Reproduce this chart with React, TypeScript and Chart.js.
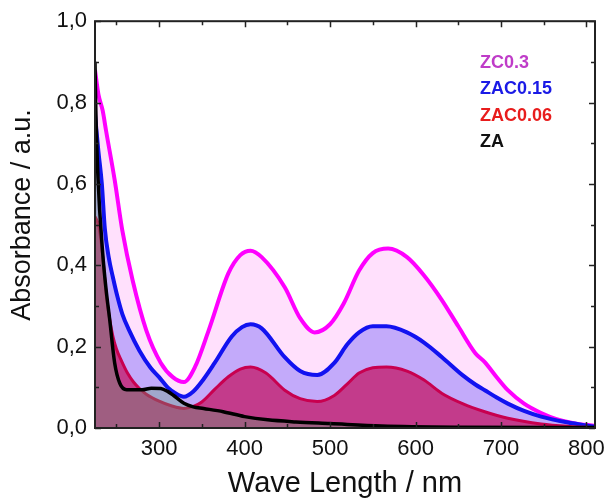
import React, { useEffect, useRef } from 'react';
import { Chart, registerables } from 'chart.js';

Chart.register(...registerables);

// ZC0.3 (magenta)
const zcX = [225, 229, 234, 238, 248, 257, 269, 285, 302, 316, 329, 342, 358, 381, 395, 407, 420, 447, 465, 482, 500, 516, 534, 550, 568, 590, 610, 631, 650, 670, 681, 695, 708, 727, 747, 765, 785, 810];
const zcY = [0.88, 0.82, 0.78, 0.73, 0.61, 0.485, 0.363, 0.24, 0.16, 0.125, 0.113, 0.15, 0.24, 0.38, 0.425, 0.436, 0.42, 0.346, 0.27, 0.235, 0.255, 0.306, 0.387, 0.43, 0.441, 0.42, 0.375, 0.314, 0.25, 0.184, 0.162, 0.125, 0.093, 0.06, 0.037, 0.022, 0.012, 0.005];

// ZAC0.15 (blue)
const zac15X = [225, 229, 233, 236.5, 241, 246, 251, 257, 265, 277, 290, 300, 310, 320, 329, 340, 352, 365, 385, 397, 407, 420, 447, 465, 485, 505, 520, 534, 550, 566, 590, 610, 631, 655, 670, 681, 695, 708, 727, 747, 777, 810];
const zac15Y = [0.77, 0.68, 0.6, 0.49, 0.42, 0.37, 0.325, 0.28, 0.24, 0.19, 0.148, 0.125, 0.1, 0.084, 0.077, 0.09, 0.12, 0.16, 0.225, 0.248, 0.255, 0.245, 0.174, 0.14, 0.13, 0.16, 0.205, 0.235, 0.25, 0.25, 0.235, 0.21, 0.174, 0.13, 0.107, 0.093, 0.075, 0.06, 0.042, 0.028, 0.014, 0.003];

// ZAC0.06 (crimson)
const zac06X = [225, 229, 232, 235, 238, 242, 246, 250, 256, 263, 270, 277, 285, 300, 315, 329, 340, 350, 365, 381, 395, 407, 425, 447, 465, 485, 505, 520, 534, 550, 566, 590, 610, 631, 655, 681, 708, 747, 780, 810];
const zac06Y = [0.52, 0.5, 0.46, 0.4, 0.33, 0.27, 0.225, 0.195, 0.165, 0.135, 0.113, 0.097, 0.083, 0.066, 0.054, 0.048, 0.053, 0.064, 0.095, 0.126, 0.145, 0.15, 0.135, 0.093, 0.072, 0.065, 0.08, 0.108, 0.135, 0.148, 0.15, 0.14, 0.118, 0.085, 0.06, 0.04, 0.024, 0.01, 0.004, 0.001];

// ZA (black)
const zaX = [225, 226, 228.5, 234, 238, 242, 248, 254, 262, 280, 291, 302, 310, 317, 329, 340, 352, 375, 400, 427, 460, 500, 560, 650, 810];
const zaY = [0.9, 0.78, 0.615, 0.43, 0.34, 0.27, 0.16, 0.11, 0.094, 0.094, 0.098, 0.097, 0.09, 0.08, 0.061, 0.052, 0.048, 0.04, 0.028, 0.02, 0.015, 0.011, 0.005, 0.002, 0.001];

const xTickValues = [300, 400, 500, 600, 700, 800];
const yTickValues = [0, 0.2, 0.4, 0.6, 0.8, 1.0];
const legendLabels = ['ZC0.3', 'ZAC0.15', 'ZAC0.06', 'ZA'];
const legendColors = ['#bf3cc8', '#1a1ae6', '#e81c1c', '#111111'];
const yTitle = 'Absorbance / a.u.';
const xTitle = 'Wave Length / nm';

const toPoints = (xs: number[], ys: number[]) => xs.map((x, i) => ({ x, y: ys[i] }));

const FONT = '"Liberation Sans", Arial, sans-serif';

const framePlugin = {
  id: 'frameTicks',
  afterDraw(chart: any) {
    const { ctx, chartArea, scales } = chart;
    const { left, right, top, bottom } = chartArea;
    const xs = scales.x;
    const ys = scales.y;
    ctx.save();
    ctx.strokeStyle = '#222';
    ctx.lineWidth = 1.5;
    ctx.beginPath();
    for (let v = 250; v <= 800; v += 50) {
      const px = Math.round(xs.getPixelForValue(v)) + 0.5;
      const len = v % 100 === 0 ? 6 : 4;
      ctx.moveTo(px, bottom);
      ctx.lineTo(px, bottom - len);
      ctx.moveTo(px, top);
      ctx.lineTo(px, top + len);
    }
    for (let i = 0; i <= 10; i++) {
      const py = Math.round(ys.getPixelForValue(i / 10)) + 0.5;
      const len = i % 2 === 0 ? 6 : 4;
      ctx.moveTo(left, py);
      ctx.lineTo(left + len, py);
      ctx.moveTo(right, py);
      ctx.lineTo(right - len, py);
    }
    ctx.stroke();
    ctx.lineWidth = 2;
    ctx.strokeRect(left, top, right - left, bottom - top);

    // legend
    ctx.font = 'bold 18px ' + FONT;
    ctx.textBaseline = 'middle';
    ctx.textAlign = 'left';
    const legendY = [63, 89, 116, 142];
    legendLabels.forEach((t, i) => {
      ctx.fillStyle = legendColors[i];
      ctx.fillText(t, 480, legendY[i]);
    });

    // y axis title
    ctx.fillStyle = '#111';
    ctx.font = '27px ' + FONT;
    ctx.textAlign = 'center';
    ctx.textBaseline = 'middle';
    ctx.translate(23, 215);
    ctx.rotate(-Math.PI / 2);
    ctx.fillText(yTitle, 0, 0);
    ctx.restore();
  },
};

export default function App() {
  const ref = useRef<HTMLCanvasElement | null>(null);
  useEffect(() => {
    if (!ref.current) return;
    const chart = new Chart(ref.current, {
      type: 'line',
      data: {
        datasets: [
          {
            label: 'ZA',
            data: toPoints(zaX, zaY),
            borderColor: '#000000',
            borderWidth: 3.5,
            backgroundColor: 'rgba(92,163,110,0.34)',
            fill: 'origin',
          },
          {
            label: 'ZAC0.06',
            data: toPoints(zac06X, zac06Y),
            borderColor: '#c8004f',
            borderWidth: 3,
            backgroundColor: 'rgba(195,13,93,0.7)',
            fill: 'origin',
          },
          {
            label: 'ZAC0.15',
            data: toPoints(zac15X, zac15Y),
            borderColor: '#1212f0',
            borderWidth: 4,
            backgroundColor: 'rgba(55,44,245,0.3)',
            fill: 'origin',
          },
          {
            label: 'ZC0.3',
            data: toPoints(zcX, zcY),
            borderColor: '#ff00ff',
            borderWidth: 4,
            backgroundColor: 'rgba(255,0,230,0.12)',
            fill: 'origin',
          },
        ],
      },
      options: {
        animation: false,
        responsive: false,
        devicePixelRatio: 1,
        layout: { padding: { top: 20, right: 11, left: 0, bottom: 0 } },
        elements: {
          point: { radius: 0 },
          line: { cubicInterpolationMode: 'monotone' },
        },
        plugins: {
          legend: { display: false },
          tooltip: { enabled: false },
        },
        scales: {
          x: {
            type: 'linear',
            min: 225,
            max: 810,
            afterBuildTicks: (s: any) => {
              s.ticks = xTickValues.map((v) => ({ value: v }));
            },
            afterFit: (s: any) => {
              s.height = 72;
            },
            grid: { display: false, drawTicks: false },
            border: { display: false },
            ticks: {
              font: { size: 22, family: FONT },
              color: '#111',
              padding: 8,
              maxRotation: 0,
              autoSkip: false,
            },
            title: {
              display: true,
              text: xTitle,
              font: { size: 29, family: FONT },
              color: '#111',
              padding: { top: 0, bottom: -1 },
            },
          },
          y: {
            type: 'linear',
            min: 0,
            max: 1,
            afterBuildTicks: (s: any) => {
              s.ticks = yTickValues.map((v) => ({ value: v }));
            },
            afterFit: (s: any) => {
              s.width = 95;
            },
            grid: { display: false, drawTicks: false },
            border: { display: false },
            ticks: {
              font: { size: 22, family: FONT },
              color: '#111',
              padding: 8,
              callback: (v: any) => Number(v).toFixed(1).replace('.', ','),
            },
            title: { display: false },
          },
        },
      },
      plugins: [framePlugin],
    });
    return () => chart.destroy();
  }, []);
  return (
    <div style={{ position: 'fixed', left: 0, top: 0, width: 613, height: 500, background: '#fff' }}>
      <canvas ref={ref} width={613} height={500} />
    </div>
  );
}
